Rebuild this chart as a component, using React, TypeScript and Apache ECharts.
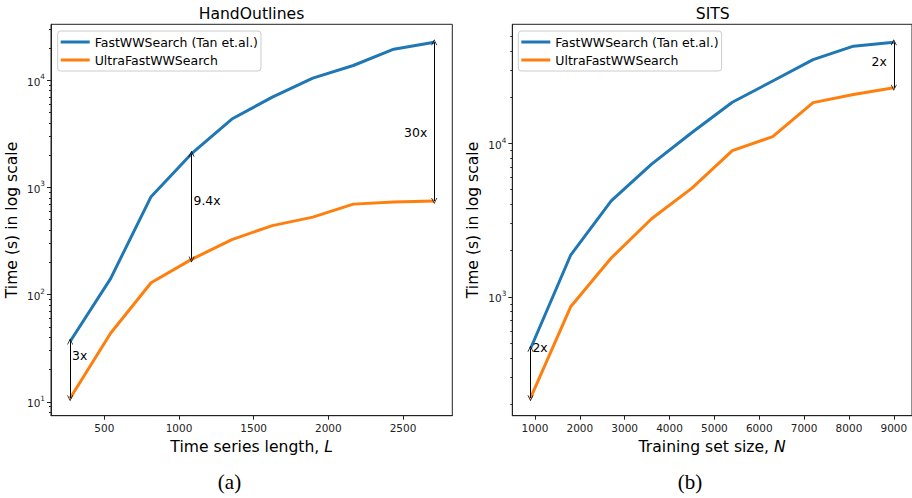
import React, { useEffect, useRef } from "react";
import * as echarts from "echarts";

// ---- data ----
const handLengths = [271, 542, 813, 1084, 1354, 1625, 1896, 2167, 2438, 2709];
const handFast = [36.5, 141, 819, 2060, 4340, 6950, 10440, 13700, 19450, 22600];
const handUltra = [10.8, 43.6, 129, 213, 326, 440, 528, 698, 730, 745];

const sitsSizes = [900, 1800, 2700, 3600, 4500, 5400, 6300, 7200, 8100, 9000];
const sitsFast = [458, 1880, 4230, 7340, 11800, 18600, 25600, 35300, 43200, 45800];
const sitsUltra = [218, 865, 1790, 3230, 5120, 9000, 11100, 18500, 20900, 23100];

const handXTicks = [500, 1000, 1500, 2000, 2500];
const sitsXTicks = [1000, 2000, 3000, 4000, 5000, 6000, 7000, 8000, 9000];
const handYMajor = [10, 100, 1000, 10000];
const handYMinor = [8, 9, 20, 30, 40, 50, 60, 70, 80, 90, 200, 300, 400, 500, 600, 700, 800, 900, 2000, 3000, 4000, 5000, 6000, 7000, 8000, 9000, 20000, 30000];
const sitsYMajor = [1000, 10000];
const sitsYMinor = [200, 300, 400, 500, 600, 700, 800, 900, 2000, 3000, 4000, 5000, 6000, 7000, 8000, 9000, 20000, 30000, 40000, 50000];

const seriesNames = ["FastWWSearch (Tan et.al.)", "UltraFastWWSearch"];
const titles = ["HandOutlines", "SITS"];
const captions = ["(a)", "(b)"];

// speed-up annotations (data coordinates)
const handNotes = [
  { x: 271, from: 36.5, to: 10.8, text: "3x", labelY: 26.9, side: "right" },
  { x: 1084, from: 2060, to: 213, text: "9.4x", labelY: 752, side: "right" },
  { x: 2709, from: 22600, to: 745, text: "30x", labelY: 3260, side: "left" },
];
const sitsNotes = [
  { x: 900, from: 458, to: 218, text: "2x", labelY: 470, side: "right" },
  { x: 9000, from: 45800, to: 23100, text: "2x", labelY: 34300, side: "left" },
];

const FONT = "DejaVu Sans";
const BLUE = "#1f77b4";
const ORANGE = "#ff7f0e";
const ARROW = "path://M5,0 L10,10 L8.8,10 L5,2.4 L1.2,10 L0,10 Z";

export default function App() {
  const ref = useRef<HTMLDivElement>(null);

  useEffect(() => {
    if (!ref.current) return;
    const chart = echarts.init(ref.current, undefined, { renderer: "svg" });

    const gridTop = 24.3;
    const gridH = 391.4;
    const gridW = 401.3;

    const xAxisBase = (gi: number, min: number, max: number, ticks: number[], nameRich: string) => ({
      type: "value",
      gridIndex: gi,
      min,
      max,
      splitLine: { show: false },
      axisLine: { show: true, lineStyle: { color: "#222", width: 1 } },
      axisTick: { show: true, customValues: ticks, length: 4, lineStyle: { color: "#222" } },
      axisLabel: {
        show: true,
        customValues: ticks,
        margin: 7,
        fontSize: 10.5,
        fontFamily: FONT,
        color: "#222",
        formatter: (v: number) => String(Math.round(v)),
      },
      name: nameRich,
      nameLocation: "middle",
      nameGap: 20,
      nameTextStyle: {
        fontSize: 15.6,
        fontFamily: FONT,
        color: "#000",
        rich: { i: { fontSize: 15.6, fontFamily: FONT, fontStyle: "italic", color: "#000" } },
      },
    });

    const yMajor = (gi: number, min: number, max: number, ticks: number[]) => ({
      type: "log",
      logBase: 10,
      gridIndex: gi,
      position: "left",
      min,
      max,
      splitLine: { show: false },
      minorTick: { show: false },
      axisLine: { show: true, lineStyle: { color: "#222", width: 1 } },
      axisTick: { show: true, customValues: ticks, length: 4, lineStyle: { color: "#222" } },
      axisLabel: {
        show: true,
        customValues: ticks,
        margin: 6,
        formatter: (v: number) => `{b|10}{s|${Math.round(Math.log10(v))}}`,
        rich: {
          b: { fontSize: 10.5, fontFamily: FONT, color: "#222", lineHeight: 14, verticalAlign: "bottom" },
          s: { fontSize: 7.3, fontFamily: FONT, color: "#222", lineHeight: 8, verticalAlign: "top" },
        },
      },
      name: "Time (s) in log scale",
      nameLocation: "middle",
      nameGap: 31,
      nameTextStyle: { fontSize: 15.6, fontFamily: FONT, color: "#000" },
    });

    const yMinor = (gi: number, min: number, max: number, ticks: number[]) => ({
      type: "log",
      logBase: 10,
      gridIndex: gi,
      position: "left",
      offset: 0,
      min,
      max,
      splitLine: { show: false },
      axisLine: { show: false },
      axisTick: { show: true, customValues: ticks, length: 2, lineStyle: { color: "#222" } },
      axisLabel: { show: false },
    });

    const notesMarks = (notes: typeof handNotes) => ({
      markLine: {
        silent: true,
        symbol: [ARROW, ARROW],
        symbolSize: [6, 6],
        lineStyle: { color: "#000", width: 1, type: "solid" },
        label: { show: false },
        emphasis: { disabled: true },
        data: notes.map((n) => [{ coord: [n.x, n.from] }, { coord: [n.x, n.to] }]),
      },
      markPoint: {
        silent: true,
        symbol: "circle",
        symbolSize: 0,
        data: notes.map((n) => ({
          name: n.text,
          coord: [n.x, n.labelY],
          label: { position: n.side, distance: n.side === "left" ? 7 : 2 },
        })),
        label: {
          show: true,
          formatter: (p: any) => p.name,
          fontSize: 12.4,
          fontFamily: FONT,
          color: "#000",
        },
      },
    });

    const line = (name: string, xs: number[], ys: number[], color: string, xi: number, yi: number, extra: any = {}) => ({
      type: "line",
      name,
      xAxisIndex: xi,
      yAxisIndex: yi,
      data: xs.map((x, i) => [x, ys[i]]),
      symbol: "none",
      showSymbol: false,
      lineStyle: { color, width: 3 },
      itemStyle: { color },
      emphasis: { disabled: true },
      ...extra,
    });

    const legendCommon = {
      data: seriesNames,
      orient: "vertical",
      icon: "rect",
      itemWidth: 29,
      itemHeight: 3,
      itemGap: 0,
      padding: [2, 3, 2, 3],
      borderColor: "#ccc",
      borderWidth: 1,
      borderRadius: 3,
      backgroundColor: "rgba(255,255,255,0.8)",
      selectedMode: false,
      textStyle: { fontSize: 12.5, fontFamily: FONT, color: "#000", lineHeight: 18 },
    };

    chart.setOption({
      animation: false,
      backgroundColor: "#fff",
      grid: [
        { left: 51, top: gridTop, width: gridW, height: gridH, show: true, borderColor: "#222", borderWidth: 1, backgroundColor: "transparent" },
        { left: 512.3, top: gridTop, width: gridW, height: gridH, show: true, borderColor: "#222", borderWidth: 1, backgroundColor: "transparent" },
      ],
      xAxis: [
        xAxisBase(0, 143, 2830, handXTicks, "Time series length, {i|L}"),
        xAxisBase(1, 495, 9405, sitsXTicks, "Training set size, {i|N}"),
      ],
      yAxis: [
        yMajor(0, 7.42, 33200, handYMajor),
        yMinor(0, 7.42, 33200, handYMinor),
        yMajor(1, 167.5, 60000, sitsYMajor),
        yMinor(1, 167.5, 60000, sitsYMinor),
      ],
      legend: [
        { ...legendCommon, left: 57.7, top: 31 },
        { ...legendCommon, left: 518.3, top: 31 },
      ],
      series: [
        line(seriesNames[0], handLengths, handFast, BLUE, 0, 0, notesMarks(handNotes)),
        line(seriesNames[1], handLengths, handUltra, ORANGE, 0, 0),
        line(seriesNames[0], sitsSizes, sitsFast, BLUE, 1, 2, notesMarks(sitsNotes)),
        line(seriesNames[1], sitsSizes, sitsUltra, ORANGE, 1, 2),
      ],
      graphic: [
        { type: "text", x: 251.5, y: 14, style: { text: titles[0], fill: "#000", font: `15.6px "${FONT}"`, align: "center", verticalAlign: "middle" } },
        { type: "text", x: 712.7, y: 14, style: { text: titles[1], fill: "#000", font: `15.6px "${FONT}"`, align: "center", verticalAlign: "middle" } },
        { type: "text", x: 229.5, y: 482, style: { text: captions[0], fill: "#000", font: `21px "Liberation Serif"`, align: "center", verticalAlign: "middle" } },
        { type: "text", x: 690, y: 482, style: { text: captions[1], fill: "#000", font: `21px "Liberation Serif"`, align: "center", verticalAlign: "middle" } },
      ],
    });

    return () => chart.dispose();
  }, []);

  return <div ref={ref} style={{ position: "absolute", left: 0, top: 0, width: 912, height: 498 }} />;
}
